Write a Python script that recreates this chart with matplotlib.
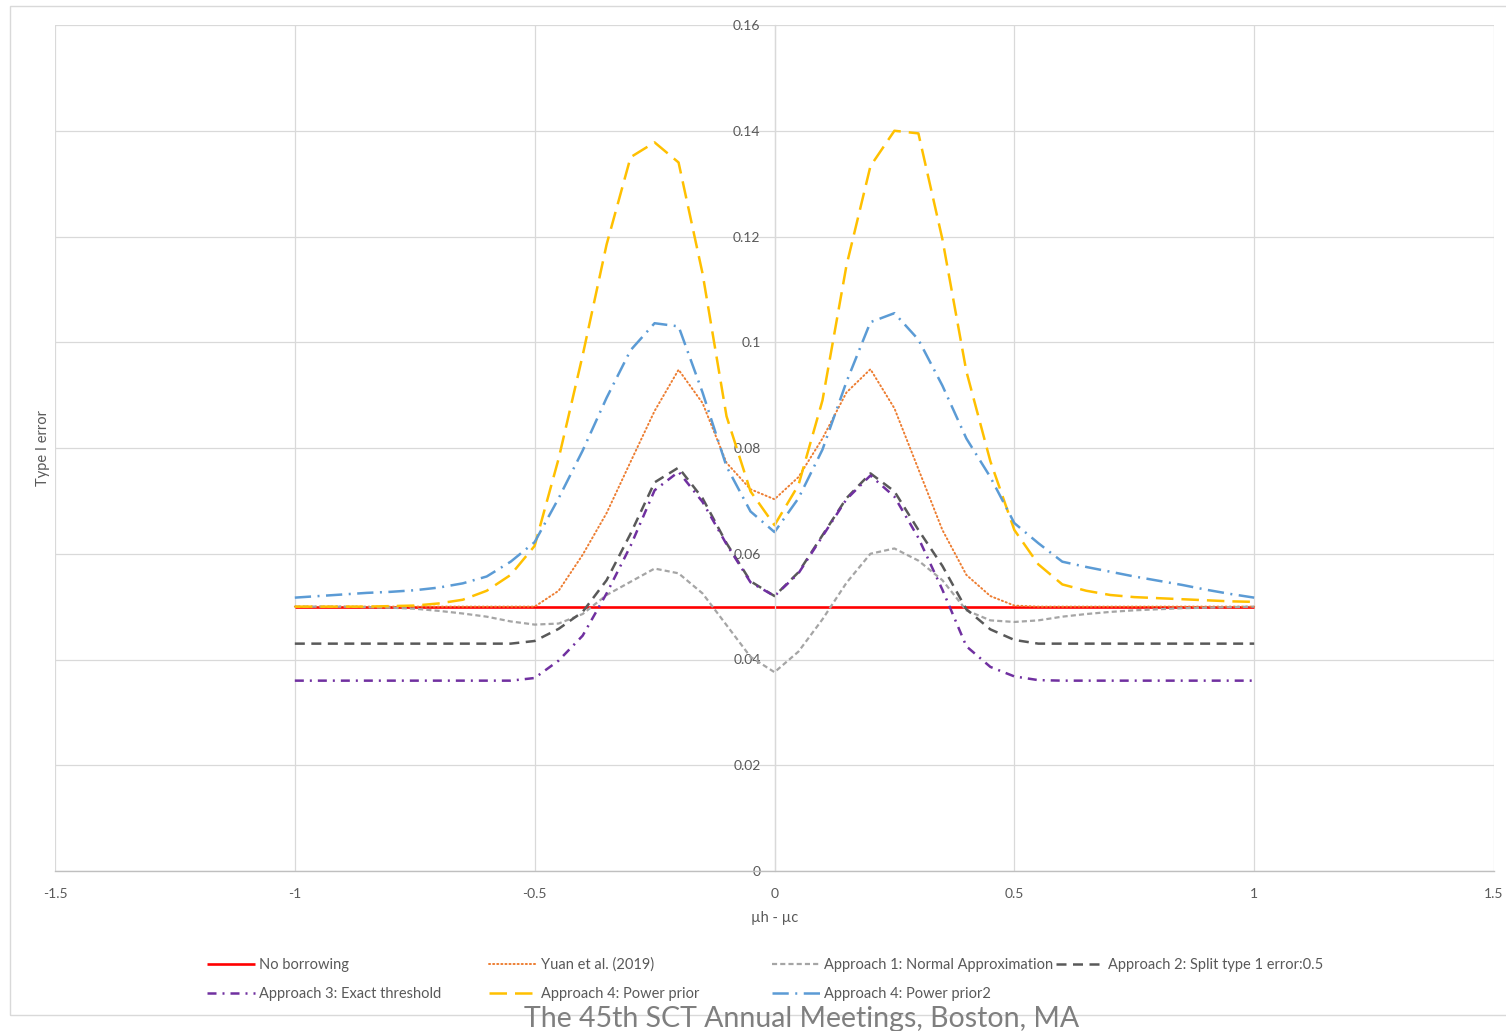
import numpy as np
import matplotlib
matplotlib.use('Agg')
import matplotlib.pyplot as plt
import matplotlib.ticker as ticker
from matplotlib.lines import Line2D
from matplotlib.patches import Rectangle

plt.rcParams['font.family'] = ['Lato', 'DejaVu Sans']

# difference in means (historical - control)
x_vals = [-1.00, -0.95, -0.90, -0.85, -0.80, -0.75, -0.70, -0.65, -0.60, -0.55,
          -0.50, -0.45, -0.40, -0.35, -0.30, -0.25, -0.20, -0.15, -0.10, -0.05,
          0.00, 0.05, 0.10, 0.15, 0.20, 0.25, 0.30, 0.35, 0.40, 0.45,
          0.50, 0.55, 0.60, 0.65, 0.70, 0.75, 0.80, 0.85, 0.90, 0.95, 1.00]

no_borrowing = [0.05] * 41

yuan_2019 = [0.0500, 0.0500, 0.0500, 0.0500, 0.0500, 0.0500, 0.0500, 0.0500, 0.0500, 0.0500,
             0.0500, 0.0530, 0.0598, 0.0677, 0.0774, 0.0870, 0.0948, 0.0885, 0.0772, 0.0722,
             0.0703, 0.0745, 0.0818, 0.0905, 0.0949, 0.0875, 0.0760, 0.0645, 0.0560, 0.0520,
             0.0502, 0.0500, 0.0500, 0.0500, 0.0500, 0.0500, 0.0500, 0.0500, 0.0500, 0.0500, 0.0500]

approach1 = [0.0500, 0.0500, 0.0500, 0.0499, 0.0498, 0.0496, 0.0492, 0.0487, 0.0481, 0.0472,
             0.0466, 0.0468, 0.0486, 0.0522, 0.0547, 0.0572, 0.0563, 0.0525, 0.0465, 0.0405,
             0.0376, 0.0415, 0.0476, 0.0545, 0.0600, 0.0610, 0.0587, 0.0550, 0.0493, 0.0474,
             0.0471, 0.0474, 0.0481, 0.0486, 0.0490, 0.0493, 0.0495, 0.0497, 0.0498, 0.0499, 0.0500]

approach2 = [0.0430, 0.0430, 0.0430, 0.0430, 0.0430, 0.0430, 0.0430, 0.0430, 0.0430, 0.0430,
             0.0435, 0.0458, 0.0490, 0.0550, 0.0638, 0.0735, 0.0763, 0.0705, 0.0620, 0.0548,
             0.0520, 0.0565, 0.0635, 0.0705, 0.0752, 0.0718, 0.0645, 0.0577, 0.0495, 0.0457,
             0.0437, 0.0430, 0.0430, 0.0430, 0.0430, 0.0430, 0.0430, 0.0430, 0.0430, 0.0430, 0.0430]

approach3 = [0.0360, 0.0360, 0.0360, 0.0360, 0.0360, 0.0360, 0.0360, 0.0360, 0.0360, 0.0360,
             0.0365, 0.0398, 0.0445, 0.0525, 0.0615, 0.0720, 0.0755, 0.0698, 0.0618, 0.0546,
             0.0520, 0.0563, 0.0633, 0.0703, 0.0748, 0.0708, 0.0630, 0.0532, 0.0425, 0.0386,
             0.0368, 0.0361, 0.0360, 0.0360, 0.0360, 0.0360, 0.0360, 0.0360, 0.0360, 0.0360, 0.0360]

power_prior = [0.0500, 0.0500, 0.0500, 0.0500, 0.0501, 0.0502, 0.0506, 0.0513, 0.0530, 0.0560,
               0.0615, 0.0780, 0.0975, 0.1185, 0.1350, 0.1378, 0.1340, 0.1130, 0.0860, 0.0718,
               0.0654, 0.0730, 0.0890, 0.1145, 0.1333, 0.1400, 0.1395, 0.1195, 0.0945, 0.0775,
               0.0645, 0.0580, 0.0542, 0.0530, 0.0522, 0.0518, 0.0516, 0.0514, 0.0512, 0.0510, 0.0509]

power_prior2 = [0.0517, 0.0520, 0.0523, 0.0526, 0.0528, 0.0531, 0.0536, 0.0544, 0.0557, 0.0585,
                0.0622, 0.0705, 0.0795, 0.0895, 0.0985, 0.1036, 0.1030, 0.0905, 0.0765, 0.0680,
                0.0641, 0.0705, 0.0797, 0.0925, 0.1038, 0.1055, 0.1005, 0.0918, 0.0818, 0.0745,
                0.0658, 0.0620, 0.0585, 0.0575, 0.0566, 0.0557, 0.0549, 0.0541, 0.0532, 0.0524, 0.0517]

x_ticks = [-1.5, -1, -0.5, 0, 0.5, 1, 1.5]
y_ticks = [0, 0.02, 0.04, 0.06, 0.08, 0.1, 0.12, 0.14, 0.16]

# (label, values, color, linewidth, dash)
series = [
    ('No borrowing', no_borrowing, '#ff0000', 1.9, '-'),
    ('Yuan et al. (2019)', yuan_2019, '#ed7d31', 1.4, (0, (0.6, 1.5))),
    ('Approach 1: Normal Approximation', approach1, '#a5a5a5', 1.6, (0, (2.3, 1.4))),
    ('Approach 2: Split type 1 error:0.5', approach2, '#595959', 1.8, (0, (4, 2.6))),
    ('Approach 3: Exact threshold', approach3, '#7030a0', 1.8, (0, (3.6, 2.4, 0.8, 2.4))),
    ('Approach 4: Power prior', power_prior, '#ffc000', 1.8, (0, (7, 3.2))),
    ('Approach 4: Power prior2', power_prior2, '#5b9bd5', 1.8, (0, (6.5, 2.6, 0.8, 2.6))),
]

text_color = '#595959'
grid_color = '#d9d9d9'

fig = plt.figure(figsize=(15.06, 10.31), dpi=100)
ax = fig.add_axes([55 / 1506, 1 - 871 / 1031, (1494 - 55) / 1506, (871 - 25) / 1031])

handles = []
for label, vals, color, lw, ls in series:
    line, = ax.plot(x_vals, vals, color=color, linewidth=lw, linestyle=ls,
                    label=label, solid_capstyle='butt', dash_capstyle='butt',
                    solid_joinstyle='round', dash_joinstyle='round')
    if label.startswith('Yuan'):
        line.set_dash_capstyle('round')
    handles.append(line)

ax.set_xlim(-1.5, 1.5)
ax.set_ylim(0, 0.16)
ax.xaxis.set_major_locator(ticker.FixedLocator(x_ticks))
ax.yaxis.set_major_locator(ticker.FixedLocator(y_ticks))
ax.xaxis.set_major_formatter(ticker.FuncFormatter(lambda v, p: '%g' % v))
ax.yaxis.set_major_formatter(ticker.FuncFormatter(lambda v, p: '%g' % v))

ax.set_axisbelow(True)
ax.grid(True, color=grid_color, linewidth=0.9)
ax.spines['top'].set_visible(False)
ax.spines['right'].set_visible(False)
ax.spines['left'].set_position(('data', 0))
ax.spines['left'].set_color(grid_color)
ax.spines['left'].set_linewidth(0.9)
ax.spines['bottom'].set_color('#bfbfbf')
ax.spines['bottom'].set_linewidth(1.0)
ax.tick_params(axis='both', length=0, labelsize=10, labelcolor=text_color)
ax.tick_params(axis='y', pad=10)
ax.tick_params(axis='x', pad=12)

ax.set_xlabel('\u00b5h - \u00b5c', fontsize=10.5, color=text_color, labelpad=8)
fig.text(43 / 1506, 1 - 448 / 1031, 'Type I error', rotation=90, fontsize=10.5,
         color=text_color, ha='center', va='center')

# legend laid out like the original, row by row
leg_pos = [(207, 965), (489, 965), (772, 965), (1056, 965),
           (207, 994), (489, 994), (772, 994)]
for h, (px, py) in zip(handles, leg_pos):
    leg = fig.legend(handles=[h], loc='center left',
                     bbox_to_anchor=(px / 1506, 1 - py / 1031),
                     frameon=False, borderpad=0, borderaxespad=0,
                     handlelength=3.3, handletextpad=0.25, fontsize=10.5)
    for t in leg.get_texts():
        t.set_color(text_color)

# chart area border
fig.patches.append(Rectangle((10 / 1506, 1 - 1015 / 1031), 1.2, (1015 - 6) / 1031,
                             transform=fig.transFigure, fill=False,
                             edgecolor=grid_color, linewidth=1.0))

fig.text(802 / 1506, 1 - 1027 / 1031, 'The 45th SCT Annual Meetings, Boston, MA',
         fontsize=20.5, color='#7f7f7f', ha='center', va='baseline')

fig.savefig('out.png', dpi=100)
